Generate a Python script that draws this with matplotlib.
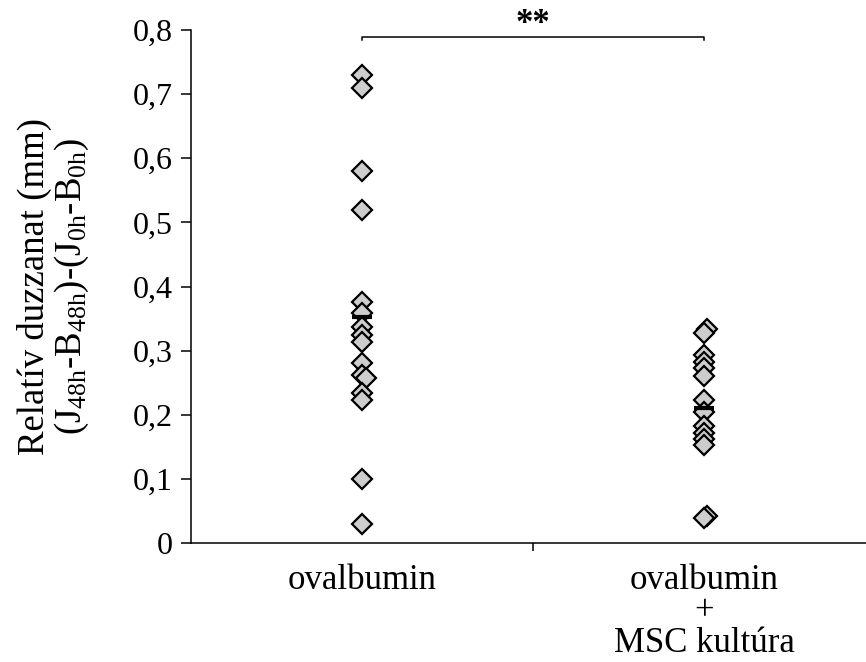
import numpy as np
import matplotlib as mpl
mpl.use('Agg')
import matplotlib.pyplot as plt

# values
groups = ['ovalbumin', 'ovalbumin\n+\nMSC kultúra']
ova = [0.73, 0.71, 0.58, 0.52, 0.376, 0.359, 0.337, 0.324, 0.314,
       0.281, 0.262, 0.257, 0.234, 0.223, 0.10, 0.03]
ova_shift = [0, 0, 0, 0, 0, 0, 0, 0, 0, 0, 0, 0.012, 0, 0, 0, 0]
msc = [0.333, 0.328, 0.293, 0.282, 0.273, 0.26, 0.223, 0.204,
       0.182, 0.172, 0.162, 0.153, 0.042, 0.039]
msc_shift = [0.008, 0, 0, 0, 0, 0, 0, 0, 0, 0, 0, 0, 0.008, 0]
yticks = [0, 0.1, 0.2, 0.3, 0.4, 0.5, 0.6, 0.7, 0.8]
ytick_labels = ['0', '0,1', '0,2', '0,3', '0,4', '0,5', '0,6', '0,7', '0,8']
sig_y = 0.789
sig_text = '**'

plt.rcParams['font.family'] = 'Liberation Serif'
plt.rcParams['mathtext.fontset'] = 'custom'
plt.rcParams['mathtext.rm'] = 'Liberation Serif'
plt.rcParams['mathtext.it'] = 'Liberation Serif'

fig = plt.figure(figsize=(8.66, 6.62), dpi=100)
ax = fig.add_axes([191/866, 119/662, 684/866, 513/662])

for i, (vals, sh) in enumerate([(ova, ova_shift), (msc, msc_shift)]):
    xpos = i + 1 + np.array(sh)
    ax.plot(xpos, vals, linestyle='none', marker='D', ms=10.5,
            mfc='#cdcdcd', mec='black', mew=1.6, zorder=3)
    ax.plot([i + 1 - 0.028, i + 1 + 0.028], [np.mean(vals)] * 2,
            color='black', lw=3, zorder=4, solid_capstyle='butt')

# significance bracket
ax.plot([1, 1, 2, 2], [sig_y - 0.004, sig_y, sig_y, sig_y - 0.004],
        color='black', lw=1.1, clip_on=False)
ax.text(1.5, 0.809, sig_text, ha='center', va='center',
        fontsize=25, fontweight='bold', clip_on=False)

ax.set_xlim(0.5, 2.5)
ax.set_ylim(0, 0.8)
ax.set_yticks(yticks)
ax.set_yticklabels(ytick_labels, fontsize=23)
ax.tick_params(axis='y', direction='out', length=7, width=1.1, pad=6)
ax.set_xticks([1, 2])
ax.set_xticklabels(groups, fontsize=25, linespacing=0.95, va='top')
ax.set_xticks([1.5], minor=True)
ax.tick_params(axis='x', which='major', length=0, pad=15)
ax.tick_params(axis='x', which='minor', direction='out', length=6, width=1.1)

for s in ['top', 'right']:
    ax.spines[s].set_visible(False)
for s in ['left', 'bottom']:
    ax.spines[s].set_linewidth(1.1)

ax.set_ylabel('Relatív duzzanat (mm)\n'
              r'(J$_{\mathrm{48h}}$-B$_{\mathrm{48h}}$)-(J$_{\mathrm{0h}}$-B$_{\mathrm{0h}}$)',
              fontsize=26.5, linespacing=1.05, labelpad=30)

fig.savefig('out.png', dpi=100)
